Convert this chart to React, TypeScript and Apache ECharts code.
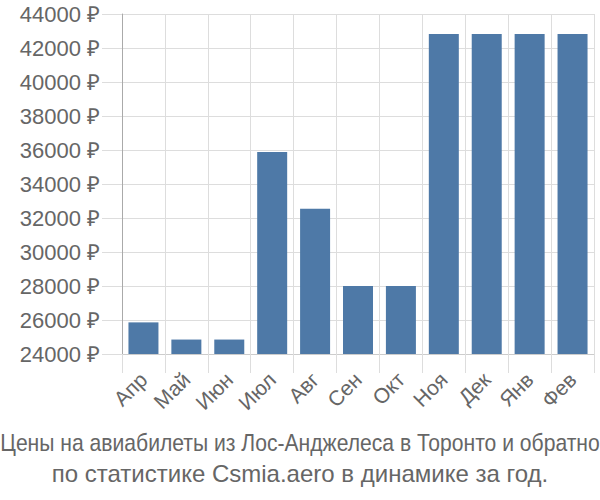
import React, { useEffect, useRef } from "react";
import * as echarts from "echarts";

const categories = ["Апр", "Май", "Июн", "Июл", "Авг", "Сен", "Окт", "Ноя", "Дек", "Янв", "Фев"];
const prices = [25860, 24850, 24850, 35880, 32550, 28000, 28000, 42820, 42820, 42820, 42820];
const titleLine1 = "Цены на авиабилеты из Лос-Анджелеса в Торонто и обратно";
const titleLine2 = "по статистике Csmia.aero в динамике за год.";

export default function App() {
  const ref = useRef<HTMLDivElement>(null);
  useEffect(() => {
    if (!ref.current) return;
    const chart = echarts.init(ref.current, null, { renderer: "svg" });
    chart.setOption({
      animation: false,
      graphic: [
        {
          type: "text",
          x: 300,
          y: 443,
          scaleX: 0.88,
          style: {
            text: titleLine1,
            align: "center",
            verticalAlign: "middle",
            fontFamily: "Liberation Sans",
            fontSize: 24,
            fill: "#666",
          },
        },
        {
          type: "text",
          x: 300,
          y: 473,
          style: {
            text: titleLine2,
            align: "center",
            verticalAlign: "middle",
            fontFamily: "Liberation Sans",
            fontSize: 24,
            fill: "#666",
          },
        },
      ],
      grid: { left: 122, right: 6, top: 14, bottom: 146, containLabel: false },
      xAxis: {
        type: "category",
        data: categories,
        axisLine: { show: true, lineStyle: { color: "#ccc", width: 1 } },
        axisTick: { show: true, alignWithLabel: false, length: 19, lineStyle: { color: "#ddd" } },
        splitLine: { show: true, lineStyle: { color: "#ddd", width: 1 } },
        axisLabel: {
          rotate: 45,
          interval: 0,
          margin: 22,
          fontFamily: "Liberation Sans",
          fontSize: 21,
          color: "#666",
        },
      },
      yAxis: {
        type: "value",
        min: 24000,
        max: 44000,
        interval: 2000,
        axisLine: { show: true, lineStyle: { color: "#aaa", width: 1 } },
        axisTick: { show: true, length: 20, lineStyle: { color: "#ddd" } },
        splitLine: { show: true, lineStyle: { color: "#ddd", width: 1 } },
        axisLabel: {
          margin: 22,
          fontFamily: "Liberation Sans",
          fontSize: 22,
          color: "#666",
          formatter: (v: number) => `${v} ₽`,
        },
      },
      series: [
        {
          type: "bar",
          data: prices,
          barWidth: 30,
          itemStyle: { color: "#4e79a7" },
        },
      ],
    });
    return () => chart.dispose();
  }, []);
  return <div ref={ref} style={{ width: 600, height: 500, position: "absolute", left: 0, top: 0 }} />;
}
